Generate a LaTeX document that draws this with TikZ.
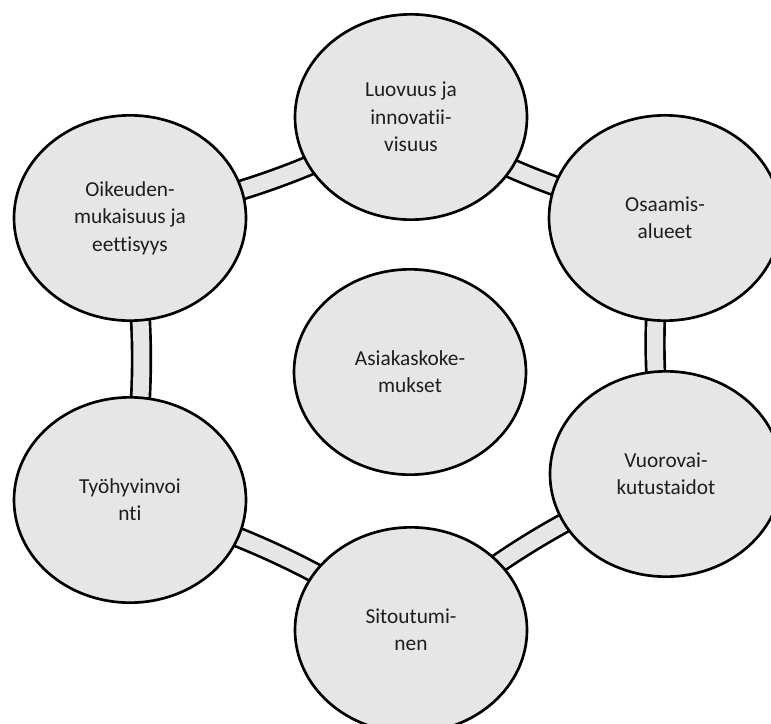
\documentclass[tikz,border=0pt]{standalone}
\usepackage{fontspec}
\setmainfont[Ligatures=NoCommon,RawFeature={-liga}]{Carlito}
\usetikzlibrary{shapes.geometric,backgrounds}
\definecolor{bubblegray}{RGB}{230,230,230}
\definecolor{textgray}{RGB}{30,30,30}

\begin{document}
\begin{tikzpicture}[x=0.75pt,y=0.75pt,yscale=-1,xscale=1,
  topic/.style={ellipse, draw=black, line width=2pt, fill=bubblegray,
    minimum width=174pt, minimum height=154pt, inner sep=0pt,
    align=center, text=textgray, font=\fontsize{16}{20.5}\selectfont},
  ring/.style={draw=black, line width=2pt, double=bubblegray, double distance=12pt}]
\useasboundingbox (0,0) rectangle (771,724);

% Centre
\node[topic] (asiakas) at (410,372) {Asiakaskoke-\\mukset};
% Outer circle
\node[topic] (luovuus) at (411,117) {Luovuus ja\\innovatii-\\visuus};
\node[topic] (osaaminen) at (665,218) {Osaamis-\\alueet};
\node[topic] (vuoro) at (666,474) {Vuorovai-\\kutustaidot};
\node[topic] (sitout) at (411,630) {Sitoutumi-\\nen};
\node[topic] (tyohyv) at (130,500) {Työhyvinvoi\\nti};
\node[topic] (oikeus) at (130,218) {Oikeuden-\\mukaisuus ja\\eettisyys};

% Ring
\begin{scope}[on background layer]
\draw[ring] (luovuus.center) to[bend left=8] (osaaminen.center);
\draw[ring] (osaaminen.center) to[bend left=8] (vuoro.center);
\draw[ring] (vuoro.center) to[bend left=8] (sitout.center);
\draw[ring] (sitout.center) to[bend left=8] (tyohyv.center);
\draw[ring] (tyohyv.center) to[bend left=8] (oikeus.center);
\draw[ring] (oikeus.center) to[bend left=8] (luovuus.center);
\end{scope}

\end{tikzpicture}
\end{document}
